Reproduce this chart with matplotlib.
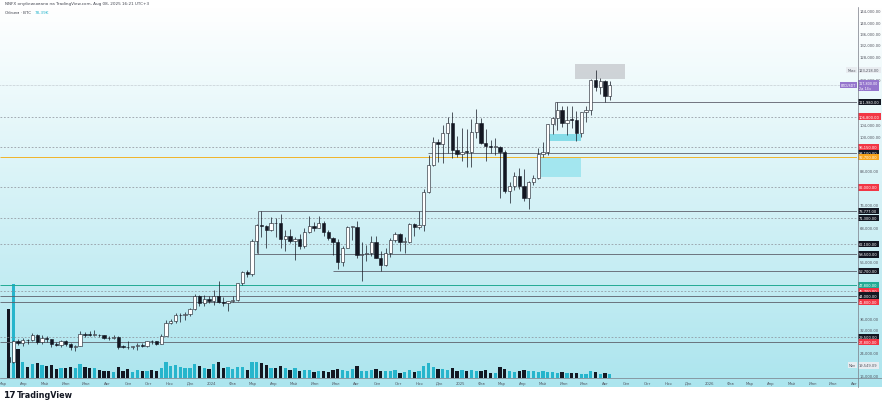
import numpy as np
import pandas as pd
import matplotlib
matplotlib.use("Agg")
import matplotlib.pyplot as plt
import matplotlib.dates as mdates
from matplotlib.colors import LinearSegmentedColormap
from matplotlib.patches import Rectangle
from matplotlib.transforms import blended_transform_factory

# weekly BTC/USDT candles, first week 2023-03-06
first_week = "2023-03-06"
opens = [22430, 20620, 28040, 27480, 28450, 28320, 30300, 27820, 29230, 28850, 26920, 26850, 28070, 27100, 25850,
         26340, 30530, 30270, 30170, 30290, 30080, 29280, 29050, 29420, 26090, 26010, 25830, 26210, 26530, 26250,
         27970, 27930, 27150, 29990, 34500, 35030, 37060, 37360, 37450, 39460, 43790, 41370, 43000,
         42280, 43950, 41730, 41580, 42120, 42580, 48300, 52140, 51730, 63110, 68960, 68390, 67210, 69650, 69360,
         63910, 64940, 63120, 63900, 61500, 66270, 68500, 67760, 69650, 66220, 64250, 62680, 55860, 60800, 68160,
         68250, 58120, 58710, 58970, 62850, 57300, 54840, 59130, 63580, 65600, 62820, 62850, 69030, 67970, 68740,
         80440, 89850, 97900, 97180, 101120, 104460, 95190, 93720,
         94510, 94480, 101330, 104730, 97690, 96460, 96120, 96250, 94270, 80730, 82580, 86080, 82390, 78370, 83760,
         85180, 93750, 94280, 104120, 106450, 109000, 104640, 105700, 105600, 100970, 108350, 109200, 119840,
         117270, 119450, 114200]
highs = [22600, 28390, 28870, 29180, 28800, 31000, 30480, 30030, 29820, 28880, 27670, 28450, 28450, 27400, 26800,
         31430, 31280, 31500, 31800, 30440, 30350, 29950, 30240, 29680, 26800, 28140, 26400, 27490, 27470, 28050,
         28580, 27990, 30380, 35280, 35980, 37980, 37990, 38420, 39800, 44730, 44100, 44400, 43800,
         45880, 48970, 43580, 42200, 43880, 48590, 52820, 52990, 64000, 69000, 73780, 68900, 71770, 71300, 72800,
         66900, 67230, 64740, 65500, 67700, 71950, 70000, 71980, 70200, 66990, 64500, 63850, 61400, 68400, 68300,
         70080, 62750, 61800, 65000, 64990, 59800, 60670, 64130, 66500, 66000, 64500, 69400, 69500, 73620, 81500,
         93480, 99590, 98870, 104000, 106650, 108350, 99960, 102700,
         102500, 106000, 109590, 106450, 102500, 98800, 99500, 96500, 95000, 84000, 87450, 88750, 88500, 84200,
         86500, 95700, 97900, 104300, 106660, 111980, 110700, 110400, 110600, 108950, 108500, 110500, 119900,
         123220, 120250, 119800, 119300]
lows = [19550, 20270, 26600, 26500, 27200, 28170, 27120, 26940, 27670, 25810, 26300, 25870, 26500, 24800, 24750,
        26250, 29500, 29700, 29950, 29500, 28860, 28580, 28700, 25170, 25800, 25330, 25360, 24900, 26020, 25990,
        27170, 26540, 27110, 29900, 33900, 34520, 34760, 35630, 36700, 39000, 40200, 40500, 41400,
        40750, 41500, 40280, 38550, 41800, 42260, 47700, 50520, 50900, 59000, 64500, 60760, 66600, 64500, 60660,
        59600, 62400, 56550, 60200, 60700, 66000, 66600, 67600, 65100, 63370, 58400, 53500, 54260, 60600, 63400,
        57120, 49000, 56100, 57800, 57200, 52550, 54580, 57500, 62700, 59830, 58900, 62400, 65050, 67500, 66830,
        80200, 89400, 90800, 90500, 94150, 92230, 92500, 91200,
        89260, 89200, 99500, 97200, 91230, 94000, 93400, 78250, 80000, 76600, 81100, 81600, 77150, 74500,
        83000, 85000, 92800, 93400, 100700, 102000, 103100, 100400, 102700, 98200, 99600, 105100, 107500,
        115700, 114700, 112000, 112650]
closes = [20620, 28040, 27480, 28450, 28320, 30300, 27820, 29230, 28850, 26920, 26850, 28070, 27100, 25850, 26340,
          30530, 30270, 30170, 30290, 30080, 29280, 29050, 29420, 26090, 26010, 25830, 26210, 26530, 26250, 27970,
          27930, 27150, 29990, 34500, 35030, 37060, 37360, 37450, 39460, 43790, 41370, 43000, 42280,
          43950, 41730, 41580, 42120, 42580, 48300, 52140, 51730, 63110, 68960, 68390, 67210, 69650, 69360, 63910,
          64940, 63120, 63900, 61500, 66270, 68500, 67760, 69650, 66220, 64250, 62680, 55860, 60800, 68160, 68250,
          58120, 58710, 58970, 62850, 57300, 54840, 59130, 63580, 65600, 62820, 62850, 69030, 67970, 68740, 80440,
          89850, 97900, 97180, 101120, 104460, 95190, 93720, 94510,
          94480, 101330, 104730, 97690, 96460, 96120, 96250, 94270, 80730, 82580, 86080, 82390, 78370, 83760,
          85180, 93750, 94280, 104120, 106450, 109000, 104640, 105700, 105600, 100970, 108350, 109200, 119840,
          117270, 119450, 114200, 117800]
# volume, thousands of BTC
volumes = [1450, 1980, 620, 330, 240, 300, 310, 280, 250, 270, 190, 200, 210, 230, 200, 290, 240, 200, 220, 160,
           150, 140, 130, 230, 150, 180, 130, 160, 140, 150, 160, 140, 210, 330, 250, 280, 240, 210, 200, 290,
           260, 220, 180,
           300, 340, 220, 240, 190, 230, 240, 170, 330, 330, 320, 280, 200, 210, 260, 220, 170, 200, 150, 170,
           160, 130, 140, 140, 130, 170, 190, 160, 150, 180, 260, 140, 150, 170, 180, 140, 150, 140, 160, 110,
           130, 160, 120, 140, 260, 310, 240, 180, 190, 170, 200, 140, 160,
           150, 170, 150, 140, 170, 110, 100, 240, 190, 150, 130, 140, 170, 150, 140, 120, 140, 130, 120, 110,
           120, 100, 110, 110, 80, 90, 150, 130, 90, 110, 78]

# horizontal levels drawn on the chart
level_prices = [111980, 106800, 96150, 94100, 92700, 82000, 73777, 71300, 62100, 58500, 52700,
                47800, 45700, 44000, 41800, 29500, 27800]
level_starts = ["2025-05-19", None, None, "2024-11-14", None, None, "2024-03-10", None, None, "2024-03-03",
                "2024-06-28", None, None, None, None, None, None]
level_kinds = ["solid", "dash", "dash", "solid", "orange", "dash", "solid", "dash", "dash", "solid", "solid",
               "teal", "dash", "solid", "solid", "dash", "solid"]
level_tags = ["#131722", "#f23645", "#f23645", "#131722", "#f7a21b", "#f23645", "#131722", "#131722",
              "#131722", "#131722", "#131722", "#22ab94", "#f23645", "#131722", "#f23645", "#131722", "#f23645"]

last_price = 117800
max_price = 123218.00
min_price = 19549.09

ru_months = ["", "Фев", "Мар", "Апр", "Май", "Июн", "Июл", "Авг", "Сен", "Окт", "Ноя", "Дек"]

W, H = 882, 406
fig = plt.figure(figsize=(W / 100, H / 100), dpi=100)

# background gradient
bg = fig.add_axes([0, 18 / H, 1, 380 / H])
grad = np.linspace(0, 1, 256)[:, None]
bg.imshow(grad, aspect="auto", cmap=LinearSegmentedColormap.from_list("bg", ["#ffffff", "#ace5ee"]),
          extent=[0, 1, 0, 1], origin="upper")
bg.axis("off")

rect = [0, 27 / H, 857 / W, 371 / H]
x0 = mdates.date2num(pd.Timestamp("2023-02-25"))
x1 = mdates.date2num(pd.Timestamp("2026-08-05"))

weeks = pd.date_range(first_week, periods=len(opens), freq="7D")
xs = mdates.date2num(weeks) + 3.5
up = np.array(closes) >= np.array(opens)

# volume pane
ax_v = fig.add_axes(rect)
ax_v.patch.set_visible(False)
ax_v.set_xlim(x0, x1)
ax_v.set_ylim(0, 7800)
ax_v.bar(xs, volumes, width=4.8, color=np.where(up, "#26b5cc", "#131722"), linewidth=0)
ax_v.axis("off")

ax = fig.add_axes(rect)
ax.patch.set_visible(False)
ax.set_xlim(x0, x1)
ax.set_ylim(15100, 145300)
for s in ax.spines.values():
    s.set_visible(False)

# candles
ax.vlines(xs, lows, highs, color="#131722", lw=0.5, zorder=3)
body_lo = np.minimum(opens, closes)
body_h = np.maximum(np.abs(np.array(closes) - np.array(opens)), 250)
ax.bar(xs, body_h, bottom=body_lo, width=4.8, color=np.where(up, "#ffffff", "#131722"),
       edgecolor="#131722", linewidth=0.4, zorder=4)

# zones
d = mdates.date2num
ax.add_patch(Rectangle((d(pd.Timestamp("2025-06-18")), 120000), 73, 5300, fc="#c9cdd1", ec="none", alpha=0.85, zorder=1))
ax.add_patch(Rectangle((d(pd.Timestamp("2025-05-09")), 98300), 48, 2450, fc="#86dce8", ec="none", zorder=1))
ax.add_patch(Rectangle((d(pd.Timestamp("2025-04-29")), 85700), 58, 7000, fc="#a3e6ef", ec="none", zorder=1))

# levels
for p, st, kind in zip(level_prices, level_starts, level_kinds):
    xa = x0 if st is None else d(pd.Timestamp(st))
    if kind == "dash":
        ax.hlines(p, xa, x1, color="#8a8d96", lw=0.5, linestyles=(0, (2.5, 2.5)), zorder=2)
    elif kind == "orange":
        ax.hlines(p, xa, x1, color="#f0b429", lw=0.7, zorder=2)
    elif kind == "teal":
        ax.hlines(p, xa, x1, color="#22ab94", lw=0.7, zorder=2)
    else:
        ax.hlines(p, xa, x1, color="#5d606b", lw=0.6, zorder=2)
ax.vlines(d(pd.Timestamp("2024-03-10")), 58500, 73777, color="#5d606b", lw=0.6, zorder=2)
ax.vlines(d(pd.Timestamp("2025-05-19")), 104000, 111980, color="#5d606b", lw=0.6, zorder=2)
ax.hlines(last_price, x0, x1, color="#9598a1", lw=0.4, linestyles=(0, (1, 1.5)), zorder=2)

# axes ticks, hiding the ones covered by price tags
tag_prices = level_prices + [last_price, max_price, min_price]
yt = np.arange(16000, 145000, 4000)
ax.yaxis.tick_right()
ax.set_yticks(yt)
ax.set_yticklabels(["" if min(abs(v - t) for t in tag_prices) < 2200 else f"{v:,.2f}" for v in yt])
ax.tick_params(axis="y", length=0, pad=2, labelsize=2.7, labelcolor="#50535e")

months = pd.date_range("2023-03-01", "2026-08-01", freq="MS")
ax.set_xticks(mdates.date2num(months))
ax.set_xticklabels([str(m.year) if m.month == 1 else ru_months[m.month - 1] for m in months])
ax.tick_params(axis="x", length=0, pad=2, labelsize=2.7, labelcolor="#50535e")

# price tags on the scale
tr = blended_transform_factory(ax.transAxes, ax.transData)
xr = 1 + 2 / 857
for p, c in zip(level_prices, level_tags):
    ax.text(xr, p, f"{p:,.2f}", transform=tr, ha="left", va="center", fontsize=2.6, color="white",
            bbox=dict(boxstyle="square,pad=0.35", fc=c, ec="none"), clip_on=False, zorder=10)
ax.text(xr, last_price, f"{last_price:,.2f}\n2д 14ч", transform=tr, ha="left", va="center", fontsize=2.4,
        color="white", linespacing=1.1, bbox=dict(boxstyle="square,pad=0.35", fc="#9575cd", ec="none"),
        clip_on=False, zorder=11)
ax.text(1 - 1 / 857, last_price, "BTCUSDT", transform=tr, ha="right", va="center", fontsize=2.3, color="white",
        bbox=dict(boxstyle="square,pad=0.35", fc="#9575cd", ec="none"), clip_on=False, zorder=11)
for p, tag in [(max_price, "Макс"), (min_price, "Мин")]:
    ax.text(xr, p, f"{p:,.2f}", transform=tr, ha="left", va="center", fontsize=2.6, color="#50535e",
            bbox=dict(boxstyle="square,pad=0.35", fc="#e8ecf0", ec="none"), clip_on=False, zorder=10)
    ax.text(1 - 1 / 857, p, tag, transform=tr, ha="right", va="center", fontsize=2.3, color="#50535e",
            bbox=dict(boxstyle="square,pad=0.35", fc="#e8ecf0", ec="none"), clip_on=False, zorder=10)

# separators
fig.add_artist(plt.Line2D([0, 1], [1 - 379 / H, 1 - 379 / H], color="#787b86", lw=0.5))
fig.add_artist(plt.Line2D([857.5 / W, 857.5 / W], [1 - 388 / H, 1 - 8 / H], color="#787b86", lw=0.5))

# texts
fig.text(5 / W, 1 - 4 / H, "NNFX опубликовано на TradingView.com, Aug 08, 2025 16:21 UTC+3",
         fontsize=3, color="#434651", va="center")
fig.text(5 / W, 1 - 13 / H, "Объем · BTC", fontsize=3, color="#434651", va="center")
fig.text(35 / W, 1 - 13 / H, "78,39K", fontsize=3, color="#26b5cc", va="center")
fig.text(3 / W, 1 - 396 / H, "17", fontsize=6.5, fontweight="heavy", color="#131722", va="center")
fig.text(17 / W, 1 - 396 / H, "TradingView", fontsize=5.8, fontweight="semibold", color="#131722", va="center")

plt.savefig("out.png", dpi=100)
